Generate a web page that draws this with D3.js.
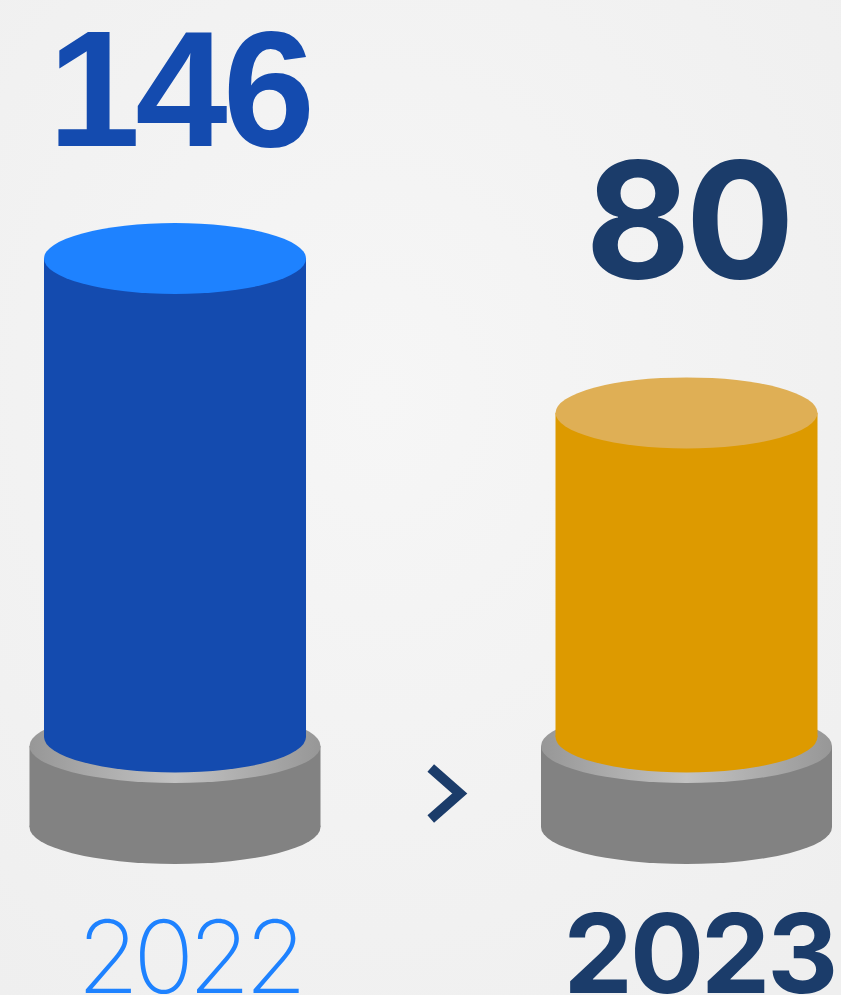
<!DOCTYPE html>
<html>
<head>
<meta charset="utf-8">
<script src="https://cdn.jsdelivr.net/npm/d3@7"></script>
<style>
  html, body { margin: 0; padding: 0; background: #f3f3f3; }
  svg { display: block; }
</style>
</head>
<body>
<div id="chart"></div>
<script>
// Data
const years = ["2022", "2023"];
const values = [146, 80];

// Styling per cylinder
const sideColors = ["#144BAF", "#DD9A00"];
const topColors = ["#1E82FF", "#DFAF55"];
const valueColors = ["#144BAF", "#1B3C6A"];
const yearColors = ["#1E82FF", "#1B3C6A"];
const valueFonts = [
  { family: "'Liberation Sans', Arial, sans-serif", weight: 700, size: 166, spacing: -5 },
  { family: "Inter, 'Liberation Sans', sans-serif", weight: 700, size: 162, spacing: -5 }
];
const yearFonts = [
  { family: "Inter, Lato, sans-serif", weight: 200, size: 101, spacing: -6 },
  { family: "Inter, 'Liberation Sans', sans-serif", weight: 700, size: 110, spacing: -3 }
];

const W = 841, H = 995;
const svg = d3.select("#chart").append("svg")
  .attr("width", W).attr("height", H).attr("viewBox", `0 0 ${W} ${H}`);

const defs = svg.append("defs");

// Soft paper background
const bg = defs.append("radialGradient").attr("id", "bgGrad")
  .attr("cx", "45%").attr("cy", "40%").attr("r", "75%");
bg.append("stop").attr("offset", "0%").attr("stop-color", "#f6f6f6");
bg.append("stop").attr("offset", "100%").attr("stop-color", "#efefef");
svg.append("rect").attr("width", W).attr("height", H).attr("fill", "url(#bgGrad)");

// Pedestal top rim gradient
const rim = defs.append("linearGradient").attr("id", "rimGrad")
  .attr("x1", "0%").attr("x2", "100%").attr("y1", "0%").attr("y2", "0%");
rim.append("stop").attr("offset", "0%").attr("stop-color", "#979797");
rim.append("stop").attr("offset", "50%").attr("stop-color", "#c2c2c2");
rim.append("stop").attr("offset", "100%").attr("stop-color", "#979797");

// Scales
const x = d3.scalePoint().domain(years).range([175, 686.5]);
const y = d3.scaleLinear().domain([0, 146]).range([600, 258.5]);

const floorY = 737;        // centre of the cylinder's bottom face
const rx = 131, ry = 35.5; // cylinder face radii
const baseRx = 145.5, baseRy = 37;
const baseTop = 746, baseBottom = 827;

const g = svg.selectAll("g.cyl").data(years).join("g").attr("class", "cyl");

// Grey pedestal
g.append("ellipse")
  .attr("cx", d => x(d)).attr("cy", baseBottom)
  .attr("rx", baseRx).attr("ry", baseRy).attr("fill", "#828282");
g.append("rect")
  .attr("x", d => x(d) - baseRx).attr("y", baseTop)
  .attr("width", baseRx * 2).attr("height", baseBottom - baseTop)
  .attr("fill", "#828282");
g.append("ellipse")
  .attr("cx", d => x(d)).attr("cy", baseTop)
  .attr("rx", baseRx).attr("ry", baseRy).attr("fill", "url(#rimGrad)");

// Cylinder body
g.append("ellipse")
  .attr("cx", d => x(d)).attr("cy", floorY)
  .attr("rx", rx).attr("ry", ry)
  .attr("fill", (d, i) => sideColors[i]);
g.append("rect")
  .attr("x", d => x(d) - rx)
  .attr("y", (d, i) => y(values[i]))
  .attr("width", rx * 2)
  .attr("height", (d, i) => floorY - y(values[i]))
  .attr("fill", (d, i) => sideColors[i]);
g.append("ellipse")
  .attr("cx", d => x(d)).attr("cy", (d, i) => y(values[i]))
  .attr("rx", rx).attr("ry", ry)
  .attr("fill", (d, i) => topColors[i]);

// Value labels
g.append("text")
  .attr("x", (d, i) => x(d) + [4, 1][i])
  .attr("y", (d, i) => y(values[i]) - [112.5, 134.5][i])
  .attr("text-anchor", "middle")
  .attr("fill", (d, i) => valueColors[i])
  .style("font-family", (d, i) => valueFonts[i].family)
  .style("font-weight", (d, i) => valueFonts[i].weight)
  .style("font-size", (d, i) => valueFonts[i].size + "px")
  .style("letter-spacing", (d, i) => valueFonts[i].spacing + "px")
  .text((d, i) => values[i]);

// Year labels
g.append("text")
  .attr("x", (d, i) => x(d) + [14, 13][i])
  .attr("y", 993)
  .attr("text-anchor", "middle")
  .attr("fill", (d, i) => yearColors[i])
  .style("font-family", (d, i) => yearFonts[i].family)
  .style("font-weight", (d, i) => yearFonts[i].weight)
  .style("font-size", (d, i) => yearFonts[i].size + "px")
  .style("letter-spacing", (d, i) => yearFonts[i].spacing + "px")
  .text(d => d);

// Chevron between the two years
const mid = (x(years[0]) + x(years[1])) / 2;
svg.append("path")
  .attr("d", d3.line()([[mid, 768], [mid + 29, 793.5], [mid, 819]]))
  .attr("fill", "none")
  .attr("stroke", "#1B3C6A")
  .attr("stroke-width", 10)
  .attr("stroke-linejoin", "miter");
</script>
</body>
</html>
